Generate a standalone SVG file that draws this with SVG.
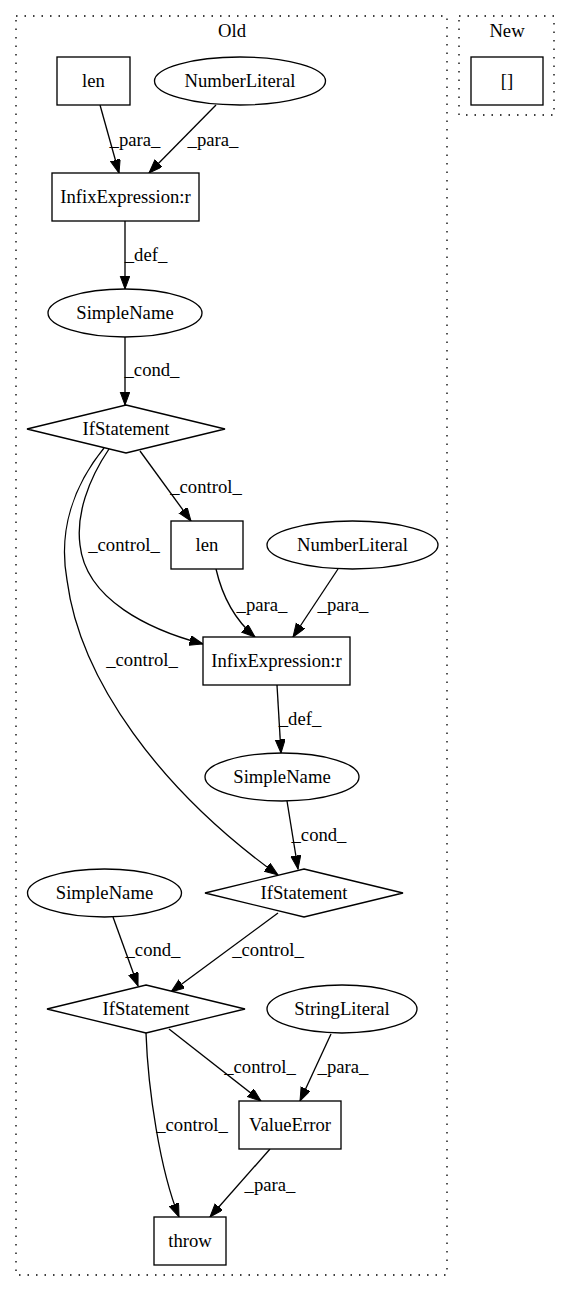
<svg xmlns="http://www.w3.org/2000/svg" width="568" height="1292" viewBox="0 0 568 1292">
<style>
text{font-family:"Liberation Serif","Times New Roman",serif;font-size:18.67px;fill:#000;text-anchor:middle}
.n{fill:#fff;stroke:#000;stroke-width:1.33}
.cl{fill:none;stroke:#000;stroke-width:1.33;stroke-dasharray:1.5,7}
.e{fill:none;stroke:#000;stroke-width:1.33;marker-end:url(#ah)}
</style>
<defs>
<marker id="ah" markerUnits="userSpaceOnUse" markerWidth="15" markerHeight="11" refX="13.5" refY="5" orient="auto">
<path d="M0,0 L13.5,5 L0,10 z" fill="#000" stroke="#000" stroke-width="1"/>
</marker>
</defs>
<rect width="568" height="1292" fill="#fff"/>
<g id="cluster_old">
<rect class="cl" x="16" y="16" width="431" height="1259"/>
<text x="232" y="37">Old</text>
</g>
<g id="cluster_new">
<rect class="cl" x="459" y="16" width="95" height="99"/>
<text x="507" y="37">New</text>
</g>
<g id="edges">
<path class="e" d="M100,105 L119,173"/>
<text x="135" y="146">_para_</text>
<path class="e" d="M216,105 L149,173"/>
<text x="213" y="146">_para_</text>
<path class="e" d="M125,221 L125,289"/>
<text x="146" y="261">_def_</text>
<path class="e" d="M125,337 L125,405"/>
<text x="152" y="376">_cond_</text>
<path class="e" d="M140,451 L191,521"/>
<text x="206" y="493">_control_</text>
<path class="e" d="M109,449 C88,480 76,515 80,545 C86,600 150,630 203,644"/>
<text x="124" y="551">_control_</text>
<path class="e" d="M104,448 C74,485 58,530 67,580 C80,680 160,790 278,875"/>
<text x="142" y="666">_control_</text>
<path class="e" d="M216,569 C222,595 235,620 255,637"/>
<text x="262" y="611">_para_</text>
<path class="e" d="M338,569 L293,637"/>
<text x="343" y="611">_para_</text>
<path class="e" d="M277,685 L281,753"/>
<text x="300" y="725">_def_</text>
<path class="e" d="M287,801 L298,869"/>
<text x="319" y="841">_cond_</text>
<path class="e" d="M113,917 L138,986"/>
<text x="153" y="956">_cond_</text>
<path class="e" d="M278,913 L171,992"/>
<text x="268" y="956">_control_</text>
<path class="e" d="M169,1029 L261,1101"/>
<text x="260" y="1073">_control_</text>
<path class="e" d="M331,1034 L300,1101"/>
<text x="343" y="1073">_para_</text>
<path class="e" d="M146,1033 C148,1090 160,1170 179,1217"/>
<text x="192" y="1131">_control_</text>
<path class="e" d="M270,1149 L210,1217"/>
<text x="270" y="1191">_para_</text>
</g>
<g id="new_box">
<rect class="n" x="471" y="57" width="72" height="48"/>
<text x="507" y="87">[]</text>
</g>
<g id="len1">
<rect class="n" x="57" y="57" width="73" height="48"/>
<text x="93.5" y="87">len</text>
</g>
<g id="numlit1">
<ellipse class="n" cx="240" cy="81" rx="85.5" ry="24"/>
<text x="240" y="87">NumberLiteral</text>
</g>
<g id="infix1">
<rect class="n" x="52" y="173" width="147" height="48"/>
<text x="125.5" y="203">InfixExpression:r</text>
</g>
<g id="simplename1">
<ellipse class="n" cx="125" cy="313" rx="77" ry="24"/>
<text x="125" y="319">SimpleName</text>
</g>
<g id="if1">
<polygon class="n" points="126,405 225,429 126,453 27,429"/>
<text x="126" y="435">IfStatement</text>
</g>
<g id="len2">
<rect class="n" x="171" y="521" width="72" height="48"/>
<text x="207" y="551">len</text>
</g>
<g id="numlit2">
<ellipse class="n" cx="352.5" cy="545" rx="85.5" ry="24"/>
<text x="352.5" y="551">NumberLiteral</text>
</g>
<g id="infix2">
<rect class="n" x="203" y="637" width="147" height="48"/>
<text x="276.5" y="667">InfixExpression:r</text>
</g>
<g id="simplename2">
<ellipse class="n" cx="282" cy="777" rx="77" ry="24"/>
<text x="282" y="783">SimpleName</text>
</g>
<g id="if2">
<polygon class="n" points="304,869 403,893 304,917 205,893"/>
<text x="304" y="899">IfStatement</text>
</g>
<g id="simplename3">
<ellipse class="n" cx="104.5" cy="893" rx="77" ry="24"/>
<text x="104.5" y="899">SimpleName</text>
</g>
<g id="if3">
<polygon class="n" points="146,985 245,1009 146,1033 47,1009"/>
<text x="146" y="1015">IfStatement</text>
</g>
<g id="stringlit">
<ellipse class="n" cx="342" cy="1009" rx="75" ry="24"/>
<text x="342" y="1015">StringLiteral</text>
</g>
<g id="valueerror">
<rect class="n" x="239" y="1101" width="102" height="48"/>
<text x="290" y="1131">ValueError</text>
</g>
<g id="throw">
<rect class="n" x="154" y="1217" width="72" height="48"/>
<text x="190" y="1247">throw</text>
</g>
</svg>
